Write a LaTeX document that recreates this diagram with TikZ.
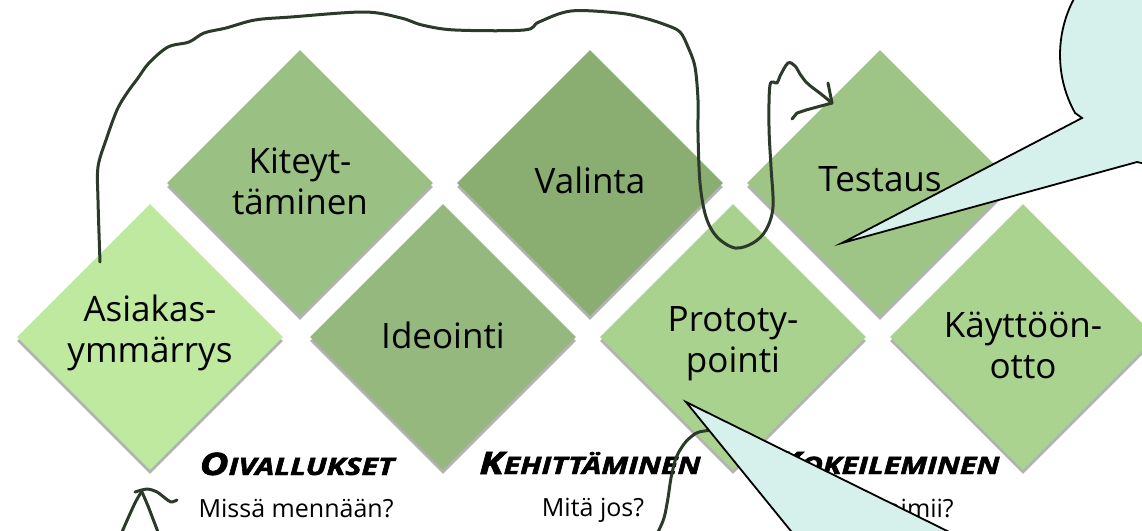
\documentclass[tikz,border=0pt]{standalone}
\usepackage{fontspec}
\setmainfont{Open Sans}
\usepackage{xcolor}
\usepackage{graphicx}
\usetikzlibrary{shapes.geometric,shadows,positioning}

\definecolor{cAsiakas}{HTML}{C0E9A0}
\definecolor{cKiteyt}{HTML}{9BC084}
\definecolor{cValinta}{HTML}{8AAE72}
\definecolor{cIdeointi}{HTML}{94B87D}
\definecolor{cTestaus}{HTML}{9FC586}
\definecolor{cProto}{HTML}{AAD28F}
\definecolor{cKaytto}{HTML}{A9D38F}
\definecolor{pencol}{HTML}{2B3A2A}
\definecolor{bubble}{HTML}{D6F1EC}

\newcommand{\capsword}[2]{\scalebox{1.27}[1]{\addfontfeatures{FakeBold=2}%
  {\fontsize{31}{31}\selectfont #1}{\fontsize{24}{24}\selectfont #2}}}

\tikzset{
  tile/.style={diamond, aspect=1, inner sep=0pt, minimum width=266pt, minimum height=266pt,
    drop shadow={shadow xshift=0pt, shadow yshift=-4pt, opacity=0.3, fill=black}},
  tiletext/.style={align=center, inner sep=0pt, font=\fontsize{35}{41}\selectfont},
  heading/.style={anchor=base, inner sep=0pt, font=\bfseries\itshape},
  question/.style={anchor=base, inner sep=0pt, font=\fontsize{25}{28}\selectfont},
  pen/.style={draw=pencol, line width=3pt, line cap=round, line join=round},
  callout/.style={fill=bubble, draw=black, line width=1.8pt, line join=miter}
}

\begin{document}
\begin{tikzpicture}[x=1pt, y=-1pt]
  \useasboundingbox (0,0) rectangle (1142,530);

  % Tiles, upper row
  \node[tile, fill=cKiteyt]  (kiteyt)  at (300,183) {};
  \node[tile, fill=cValinta] (valinta) at (590,183) {};
  \node[tile, fill=cTestaus] (testaus) at (880,183) {};
  % Tiles, lower row
  \node[tile, fill=cAsiakas]  (asiakas)  at (150,337) {};
  \node[tile, fill=cIdeointi] (ideointi) at (443,337) {};
  \node[tile, fill=cProto]    (proto)    at (733,337) {};
  \node[tile, fill=cKaytto]   (kaytto)   at (1023,337) {};

  % Tile texts
  \node[tiletext] (kiteytT)   at ([yshift=2pt]kiteyt.center)   {Kiteyt-\\täminen};
  \node[tiletext] (valintaT)  at ([yshift=3pt]valinta.center)  {Valinta};
  \node[tiletext] (testausT)  at ([yshift=4pt]testaus.center)  {Testaus};
  \node[tiletext] (asiakasT)  at ([yshift=4pt]asiakas.center)  {Asiakas-\\ymmärrys};
  \node[tiletext] (ideointiT) at ([yshift=2pt]ideointi.center) {Ideointi};
  \node[tiletext] (protoT)    at ([yshift=-7pt]proto.center)   {Prototy-\\pointi};
  \node[tiletext] (kayttoT)   at ([yshift=-8pt]kaytto.center)  {Käyttöön-\\otto};

  % Phases
  \node[heading]  (oival)  at (297,475) {\capsword{O}{IVALLUKSET}};
  \node[heading]  (kehit)  at (590,474) {\capsword{K}{EHITTÄMINEN}};
  \node[heading]  (kokeil) at (888,474) {\capsword{K}{OKEILEMINEN}};
  \node[question] (q1) at (296,517) {Missä mennään?};
  \node[question] (q2) at (593,516) {Mitä jos?};
  \node[question] (q3) at (884,517) {Mikä toimii?};

  \begin{scope}
    \clip (0,0) rectangle (1142,530);

    % Hand drawn loop
    \coordinate (penStart) at (100,262);
    \coordinate (penTip) at (832,103);
    \draw[pen] plot[smooth, tension=0.55] coordinates {
      (penStart) (98,200) (98,167) (106,140) (117,110) (127,93) (138,78) (149,63)
      (168,47) (189,42) (204,33) (226,28) (255,20) (291,17) (364,12) (401,18)
      (422,25) (455,30) (524,30) (539,22) (571,11) (618,13) (644,18) (666,25)
      (680,32) (688,47) (695,67) (698,100) (698,133) (700,183) (706,217)
      (717,237) (735,248) (753,243) (766,230) (773,207) (771,167) (769,127)
      (770,85) (777,83) (780,76) (788,63) (795,66) (800,74) (806,82) (813,88)
      (821,94) (penTip)};
    \draw[pen] (828,83) -- (penTip);
    \draw[pen] (792,119) -- (797,113) -- (806,110) -- (penTip);

    % Hand drawn stroke under the lower callout
    \draw[pen] plot[smooth, tension=0.55] coordinates {
      (658,532) (664,518) (668,498) (671,478) (676,458) (684,444) (692,436)
      (699,432) (712,430)};

    % Hand drawn arrow head, bottom left
    \draw[pen] plot[smooth] coordinates {(122,532) (129,516) (136,501) (142,491)};
    \draw[pen] plot[smooth] coordinates {(142,492) (148,506) (153,519) (158,532)};
    \draw[pen] plot[smooth] coordinates {(135,492) (147,489) (157,492) (165,498) (171,502) (177,500)};

    % Callouts
    \coordinate (tipA) at (842,243);
    \coordinate (tipB) at (686,402);
    \draw[callout] (1082,118) -- (tipA) -- (1137,162)
      arc[start angle=103.3, end angle=-211.8, x radius=100, y radius=110] -- cycle;
    \draw[callout] (tipB) -- (847,600) -- (1087,600) -- cycle;
  \end{scope}
\end{tikzpicture}
\end{document}
